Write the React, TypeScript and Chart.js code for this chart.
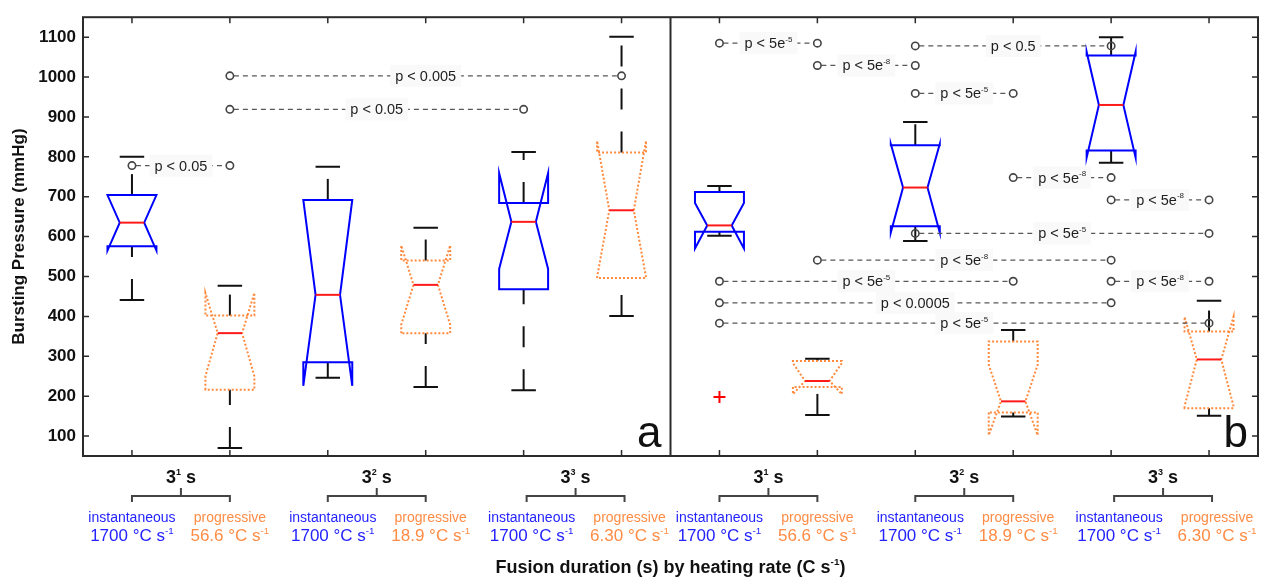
import React, { useEffect, useRef } from "react";
import { Chart, registerables } from "chart.js";

Chart.register(...registerables);

const FONT = '"Liberation Sans", Arial, Helvetica, sans-serif';
Chart.defaults.font.family = FONT;

// ---------- categories / labels ----------
const durationExp = ["1", "2", "3"];
const methods = ["instantaneous", "progressive", "instantaneous", "progressive", "instantaneous", "progressive"];
const heatingRates = ["1700", "56.6", "1700", "18.9", "1700", "6.30"];
const yTicks = [100, 200, 300, 400, 500, 600, 700, 800, 900, 1000, 1100];
const panelLetters = ["a", "b"];
const yTitle = "Bursting Pressure (mmHg)";
const xTitle = "Fusion duration (s) by heating rate (C s^{-1})";

// ---------- panel a (bursting pressure, mmHg) ----------
const aMin = [441, 70, 246, 223, 215, 401];
const aQ1 = [576, 216, 285, 358, 468, 496];
const aMedian = [635, 358, 454, 479, 637, 666];
const aQ3 = [704, 402, 692, 540, 684, 811];
const aMax = [800, 477, 775, 622, 812, 1101];
const aNotchLo = [565, 250, 226, 379, 519, 498];
const aNotchHi = [704, 459, 692, 578, 759, 840];
const aOutliers: number[][] = [[], [], [], [], [], []];

// ---------- panel b ----------
const bMin = [602, 153, 589, 149, 785, 151];
const bQ1 = [612, 223, 626, 159, 816, 170];
const bMedian = [628, 238, 723, 187, 930, 292];
const bQ3 = [712, 288, 829, 337, 1054, 362];
const bMax = [727, 294, 887, 366, 1100, 439];
const bNotchLo = [570, 205, 610, 102, 798, 175];
const bNotchHi = [684, 283, 832, 279, 1063, 399];
const bOutliers: number[][] = [[198], [], [], [], [], []];

// ---------- significance annotations (box index 1..6 within panel) ----------
const aPFrom = [1, 2, 2];
const aPTo = [2, 6, 5];
const aPLevel = [778, 1003, 919];
const aPText = ["p < 0.05", "p < 0.005", "p < 0.05"];

const bPFrom = [1, 2, 3, 3, 4, 5, 3, 2, 1, 5, 1, 1];
const bPTo = [2, 3, 5, 4, 5, 6, 6, 5, 4, 6, 5, 6];
const bPLevel = [1085, 1029, 1078, 959, 748, 692, 608, 541, 488, 488, 434, 383];
const bPText = [
  "p < 5e^{-5}", "p < 5e^{-8}", "p < 0.5", "p < 5e^{-5}", "p < 5e^{-8}", "p < 5e^{-8}",
  "p < 5e^{-5}", "p < 5e^{-8}", "p < 5e^{-5}", "p < 5e^{-8}", "p < 0.0005", "p < 5e^{-5}",
];

// ---------- style / layout constants ----------
const BLUE = "#0000ff";
const ORANGE = "#ff8a3d";
const BLUE_TEXT = "#2323ff";
const ORANGE_TEXT = "#ff8c45";
const BOX_HALF = 0.25;
const WAIST_HALF = 0.125;
const CAP_HALF = 0.125;
const labelShiftPx = [0, 5, 8];
const bracketShiftPx = [0, 0, 3];

type Panel = {
  min: number[]; q1: number[]; med: number[]; q3: number[]; max: number[];
  nLo: number[]; nHi: number[]; out: number[][];
  pFrom: number[]; pTo: number[]; pLevel: number[]; pText: string[];
};
const panels: Panel[] = [
  { min: aMin, q1: aQ1, med: aMedian, q3: aQ3, max: aMax, nLo: aNotchLo, nHi: aNotchHi, out: aOutliers,
    pFrom: aPFrom, pTo: aPTo, pLevel: aPLevel, pText: aPText },
  { min: bMin, q1: bQ1, med: bMedian, q3: bQ3, max: bMax, nLo: bNotchLo, nHi: bNotchHi, out: bOutliers,
    pFrom: bPFrom, pTo: bPTo, pLevel: bPLevel, pText: bPText },
];

type Part = { t: string; sup: boolean };
function richParts(s: string): Part[] {
  const parts: Part[] = [];
  const re = /\^\{([^}]*)\}/g;
  let last = 0;
  let m: RegExpExecArray | null;
  while ((m = re.exec(s))) {
    if (m.index > last) parts.push({ t: s.slice(last, m.index), sup: false });
    parts.push({ t: m[1], sup: true });
    last = re.lastIndex;
  }
  if (last < s.length) parts.push({ t: s.slice(last), sup: false });
  return parts;
}

function measureRich(ctx: CanvasRenderingContext2D, s: string, size: number, weight: string, supScale: number) {
  const parts = richParts(s);
  const widths = parts.map((p) => {
    ctx.font = `${weight} ${p.sup ? size * supScale : size}px ${FONT}`;
    return ctx.measureText(p.t).width;
  });
  return { parts, widths, total: widths.reduce((a, b) => a + b, 0) };
}

function drawRich(
  ctx: CanvasRenderingContext2D, s: string, x: number, y: number, size: number,
  weight: string, color: string, supScale = 0.58, raise = 0.42,
) {
  const { parts, widths, total } = measureRich(ctx, s, size, weight, supScale);
  let cx = x - total / 2;
  ctx.fillStyle = color;
  ctx.textAlign = "left";
  ctx.textBaseline = "alphabetic";
  parts.forEach((p, i) => {
    ctx.font = `${weight} ${p.sup ? size * supScale : size}px ${FONT}`;
    ctx.fillText(p.t, cx, p.sup ? y - size * raise : y);
    cx += widths[i];
  });
  return total;
}

const drawPlugin = {
  id: "notchedBoxes",
  beforeDatasetsDraw(chart: any) {
    const ctx: CanvasRenderingContext2D = chart.ctx;
    const xs = chart.scales.x;
    const ys = chart.scales.y;
    const X = (v: number) => xs.getPixelForValue(v);
    const Y = (v: number) => ys.getPixelForValue(v);
    const { left, right, top, bottom } = chart.chartArea;
    ctx.save();

    // frame, divider and tick marks
    ctx.strokeStyle = "#2b2b2b";
    ctx.lineWidth = 2;
    ctx.setLineDash([]);
    ctx.strokeRect(left, top, right - left, bottom - top);
    ctx.beginPath();
    ctx.moveTo(X(6.5), top);
    ctx.lineTo(X(6.5), bottom);
    ctx.stroke();
    ctx.lineWidth = 1.5;
    yTicks.forEach((v) => {
      ctx.beginPath();
      ctx.moveTo(left, Y(v)); ctx.lineTo(left + 6, Y(v));
      ctx.moveTo(right, Y(v)); ctx.lineTo(right - 6, Y(v));
      ctx.stroke();
    });
    for (let pos = 1; pos <= 12; pos++) {
      ctx.beginPath();
      ctx.moveTo(X(pos), top); ctx.lineTo(X(pos), top + 6);
      ctx.moveTo(X(pos), bottom); ctx.lineTo(X(pos), bottom - 6);
      ctx.stroke();
    }

    // boxes
    panels.forEach((pn, p) => {
      for (let i = 0; i < 6; i++) {
        const pos = p * 6 + i + 1;
        const xc = X(pos);
        const xl = X(pos - BOX_HALF), xr = X(pos + BOX_HALF);
        const wl = X(pos - WAIST_HALF), wr = X(pos + WAIST_HALF);
        const cl = X(pos - CAP_HALF), cr = X(pos + CAP_HALF);
        const inst = methods[i] === "instantaneous";

        // whiskers (dashed), upper from q3 to max, lower from min to q1
        ctx.strokeStyle = "#111";
        ctx.lineWidth = 2;
        ctx.setLineDash([21, 22]);
        ctx.beginPath();
        ctx.moveTo(xc, Y(pn.q3[i])); ctx.lineTo(xc, Y(pn.max[i]));
        ctx.stroke();
        ctx.beginPath();
        ctx.moveTo(xc, Y(pn.min[i])); ctx.lineTo(xc, Y(pn.q1[i]));
        ctx.stroke();
        ctx.setLineDash([]);
        ctx.beginPath();
        ctx.moveTo(cl, Y(pn.max[i])); ctx.lineTo(cr, Y(pn.max[i]));
        ctx.moveTo(cl, Y(pn.min[i])); ctx.lineTo(cr, Y(pn.min[i]));
        ctx.stroke();

        // notched box outline
        ctx.strokeStyle = inst ? BLUE : ORANGE;
        ctx.lineWidth = 2;
        ctx.lineJoin = "miter";
        ctx.setLineDash(inst ? [] : [2, 2]);
        ctx.beginPath();
        ctx.moveTo(xl, Y(pn.q1[i]));
        ctx.lineTo(xl, Y(pn.nLo[i]));
        ctx.lineTo(wl, Y(pn.med[i]));
        ctx.lineTo(xl, Y(pn.nHi[i]));
        ctx.lineTo(xl, Y(pn.q3[i]));
        ctx.lineTo(xr, Y(pn.q3[i]));
        ctx.lineTo(xr, Y(pn.nHi[i]));
        ctx.lineTo(wr, Y(pn.med[i]));
        ctx.lineTo(xr, Y(pn.nLo[i]));
        ctx.lineTo(xr, Y(pn.q1[i]));
        ctx.closePath();
        ctx.stroke();
        ctx.setLineDash([]);

        // median
        ctx.strokeStyle = "#ff1a1a";
        ctx.beginPath();
        ctx.moveTo(wl, Y(pn.med[i])); ctx.lineTo(wr, Y(pn.med[i]));
        ctx.stroke();
      }
    });

    // significance annotations
    panels.forEach((pn, p) => {
      pn.pLevel.forEach((lv, k) => {
        const x1 = X(p * 6 + pn.pFrom[k]);
        const x2 = X(p * 6 + pn.pTo[k]);
        const y = Y(lv);
        ctx.strokeStyle = "#585858";
        ctx.lineWidth = 1.2;
        ctx.setLineDash([5, 4]);
        ctx.beginPath();
        ctx.moveTo(x1 + 4, y); ctx.lineTo(x2 - 4, y);
        ctx.stroke();
        ctx.setLineDash([]);
        // label with background
        const size = 14.5;
        const m = measureRich(ctx, pn.pText[k], size, "normal", 0.55);
        const cx = (x1 + x2) / 2;
        ctx.fillStyle = "#f9f9f9";
        ctx.fillRect(cx - m.total / 2 - 5, y - 11, m.total + 10, 22);
        drawRich(ctx, pn.pText[k], cx, y + 5, size, "normal", "#1e1e1e", 0.55, 0.45);
        // end circles
        ctx.strokeStyle = "#444";
        ctx.lineWidth = 1.6;
        [x1, x2].forEach((xx) => {
          ctx.beginPath();
          ctx.arc(xx, y, 3.7, 0, Math.PI * 2);
          ctx.stroke();
        });
      });
    });

    // panel letters
    ctx.fillStyle = "#111";
    ctx.font = `44px ${FONT}`;
    ctx.textAlign = "right";
    ctx.textBaseline = "alphabetic";
    ctx.fillText(panelLetters[0], X(6.5) - 9, bottom - 9);
    ctx.fillText(panelLetters[1], right - 10, bottom - 9);

    // group labels, brackets, category labels
    for (let p = 0; p < 2; p++) {
      for (let g = 0; g < 3; g++) {
        const pos1 = p * 6 + g * 2 + 1;
        const bx1 = X(pos1) + bracketShiftPx[g];
        const bx2 = X(pos1 + 1) + bracketShiftPx[g];
        const mid = (bx1 + bx2) / 2;
        drawRich(ctx, `3^{${durationExp[g]}} s`, mid, 483, 18, "bold", "#111", 0.5, 0.45);
        ctx.strokeStyle = "#444";
        ctx.lineWidth = 2;
        ctx.beginPath();
        ctx.moveTo(bx1, 502); ctx.lineTo(bx1, 496); ctx.lineTo(bx2, 496); ctx.lineTo(bx2, 502);
        ctx.moveTo(mid, 496); ctx.lineTo(mid, 488);
        ctx.stroke();
      }
      for (let i = 0; i < 6; i++) {
        const pos = p * 6 + i + 1;
        const g = Math.floor(i / 2);
        const xc = X(pos) + labelShiftPx[g];
        const col = methods[i] === "instantaneous" ? BLUE_TEXT : ORANGE_TEXT;
        drawRich(ctx, methods[i], xc, 521.5, 14, "normal", col);
        drawRich(ctx, `${heatingRates[i]} °C s^{-1}`, xc, 541, 17, "normal", col, 0.58, 0.4);
      }
    }

    // x title
    drawRich(ctx, xTitle, (left + right) / 2, 573, 18, "bold", "#111", 0.55, 0.42);

    ctx.restore();
  },
};

export default function App() {
  const ref = useRef<HTMLCanvasElement>(null);
  useEffect(() => {
    const outlierPoints: { x: number; y: number }[] = [];
    panels.forEach((pn, p) =>
      pn.out.forEach((vals, i) => vals.forEach((v) => outlierPoints.push({ x: p * 6 + i + 1, y: v }))),
    );
    const chart = new Chart(ref.current as HTMLCanvasElement, {
      type: "scatter",
      data: {
        datasets: [
          {
            data: outlierPoints,
            pointStyle: "cross",
            pointRadius: 6,
            borderColor: "#ff0000",
            backgroundColor: "#ff0000",
            borderWidth: 2,
          } as any,
        ],
      },
      options: {
        animation: false,
        responsive: false,
        devicePixelRatio: 1,
        events: [],
        layout: { padding: { top: 12, right: 9, bottom: 124, left: 0 } },
        plugins: { legend: { display: false }, tooltip: { enabled: false } },
        scales: {
          x: { type: "linear", min: 0.5, max: 12.5, display: false },
          y: {
            type: "linear",
            min: 50,
            max: 1150,
            afterFit: (s: any) => { s.width = 83; },
            afterBuildTicks: (s: any) => { s.ticks = yTicks.map((v) => ({ value: v })); },
            grid: { display: false, drawTicks: false },
            border: { display: false },
            ticks: {
              color: "#111",
              padding: 7,
              font: { size: 17, weight: "bold", family: FONT },
              callback: (v: any) => String(v),
            },
            title: {
              display: true,
              text: yTitle,
              color: "#111",
              font: { size: 17, weight: "bold", family: FONT },
              padding: { top: 9, bottom: 0 },
            },
          },
        },
      } as any,
      plugins: [drawPlugin as any],
    });
    return () => chart.destroy();
  }, []);
  return (
    <div style={{ position: "absolute", left: 0, top: 0, width: 1267, height: 580, background: "#fff" }}>
      <canvas ref={ref} width={1267} height={580} style={{ display: "block", width: 1267, height: 580 }} />
    </div>
  );
}
